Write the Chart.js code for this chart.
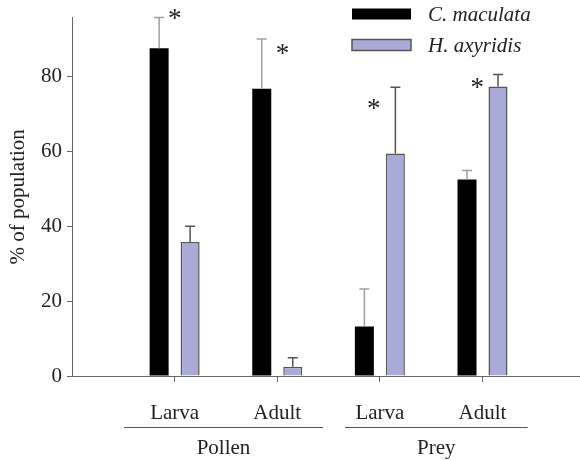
<!DOCTYPE html>
<html>
<head>
<meta charset="utf-8">
<title>Pollen vs prey</title>
<script src="https://cdn.jsdelivr.net/npm/chart.js@4.4.1/dist/chart.umd.min.js"></script>
<style>
  html, body { margin: 0; padding: 0; background: #fff; }
  #wrap { width: 580px; height: 460px; }
</style>
</head>
<body>
<div id="wrap"><canvas id="barChart" width="580" height="460"></canvas></div>
<script>
// categories along the x axis, and the food groups beneath them
const categories = ['Larva', 'Adult', 'Larva', 'Adult'];
const groups = ['Pollen', 'Prey'];
const seriesNames = ['C. maculata', 'H. axyridis'];

// mean % of population and error (SE)
const cMaculata = [87.5, 76.7, 13.2, 52.5];
const hAxyridis = [35.8, 2.5, 59.4, 77.3];
const errCm = [8.2, 13.3, 10.0, 2.4];
const errHa = [4.2, 2.4, 17.7, 3.2];

// significance stars: position along the category axis and height (in % units)
const starCats = [1.0, 2.05, 2.94, 3.95];
const starValues = [96.8, 87.7, 72.8, 78.5];

const yTicks = [0, 20, 40, 60, 80];

const serif = '"Liberation Serif", "DejaVu Serif", serif';

function toPoints(arr) {
    return arr.map((v, i) => ({ x: i + 1, y: v }));
}

// error bars, stars, legend and group brackets
const extras = {
    id: 'extras',
    afterDatasetsDraw(chart) {
        const ctx = chart.ctx;
        const y = chart.scales.y;
        const errs = [errCm, errHa];
        const vals = [cMaculata, hAxyridis];
        const colors = ['#a0a0a0', '#555'];
        ctx.save();
        for (let d = 0; d < 2; d++) {
            const meta = chart.getDatasetMeta(d);
            meta.data.forEach((bar, i) => {
                const top = y.getPixelForValue(vals[d][i] + errs[d][i]);
                ctx.strokeStyle = colors[d];
                ctx.lineWidth = 1.5;
                ctx.beginPath();
                ctx.moveTo(bar.x, bar.y);
                ctx.lineTo(bar.x, top);
                ctx.moveTo(bar.x - 5, top);
                ctx.lineTo(bar.x + 5, top);
                ctx.stroke();
            });
        }
        ctx.restore();
    },
    afterDraw(chart) {
        const ctx = chart.ctx;
        const x = chart.scales.x;
        const y = chart.scales.y;
        ctx.save();

        // stars
        ctx.fillStyle = '#222';
        ctx.font = '27px ' + serif;
        ctx.textAlign = 'center';
        ctx.textBaseline = 'alphabetic';
        starCats.forEach((c, i) => {
            const px = x.getPixelForValue(c);
            const py = y.getPixelForValue(starValues[i]);
            ctx.fillText('*', px, py + 14);
        });

        // legend
        const ds = chart.data.datasets;
        ctx.font = 'italic 21px ' + serif;
        ctx.textAlign = 'left';
        ctx.textBaseline = 'middle';
        ds.forEach((d, i) => {
            const cy = 14 + i * 31;
            ctx.fillStyle = d.backgroundColor;
            ctx.fillRect(352, cy - 5.5, 59, 11);
            if (d.borderWidth) {
                ctx.strokeStyle = d.borderColor;
                ctx.lineWidth = 1.5;
                ctx.strokeRect(352, cy - 5.5, 59, 11);
            }
            ctx.fillStyle = '#222';
            ctx.fillText(d.label, 428, cy + 1);
        });

        // group brackets under the tick labels
        const spans = [[0.507, 2.446], [2.66, 4.44]];
        ctx.strokeStyle = '#555';
        ctx.lineWidth = 1;
        ctx.font = '21px ' + serif;
        ctx.textAlign = 'center';
        ctx.fillStyle = '#222';
        groups.forEach((g, i) => {
            const x0 = x.getPixelForValue(spans[i][0]);
            const x1 = x.getPixelForValue(spans[i][1]);
            ctx.beginPath();
            ctx.moveTo(x0, 427.5);
            ctx.lineTo(x1, 427.5);
            ctx.stroke();
            ctx.fillText(g, (x0 + x1) / 2, 448);
        });
        ctx.restore();
    }
};

new Chart(document.getElementById('barChart'), {
    type: 'bar',
    data: {
        datasets: [{
            label: seriesNames[0],
            data: toPoints(cMaculata),
            backgroundColor: '#000',
            borderWidth: 0
        }, {
            label: seriesNames[1],
            data: toPoints(hAxyridis),
            backgroundColor: '#a9abd6',
            borderColor: '#555',
            borderWidth: 1.5
        }]
    },
    options: {
        responsive: false,
        animation: false,
        categoryPercentage: 0.604,
        barPercentage: 0.613,
        layout: { padding: { top: 17, right: 0, left: 0, bottom: 0 } },
        plugins: {
            legend: { display: false },
            tooltip: { enabled: false }
        },
        scales: {
            x: {
                type: 'linear',
                min: 0,
                max: 4.95,
                offset: false,
                afterBuildTicks: s => { s.ticks = categories.map((c, i) => ({ value: i + 1 })); },
                afterFit: s => { s.height = 84; },
                grid: { offset: false, drawOnChartArea: false, drawTicks: true, tickLength: 6, color: '#666' },
                border: { display: true, color: '#666', width: 1 },
                ticks: {
                    callback: v => categories[v - 1] || '',
                    font: { family: serif, size: 21 },
                    color: '#222',
                    padding: 19,
                    maxRotation: 0
                }
            },
            y: {
                min: 0,
                max: 95.7,
                afterBuildTicks: s => { s.ticks = yTicks.map(v => ({ value: v })); },
                afterFit: s => { s.width = 72; },
                grid: { drawOnChartArea: false, drawTicks: true, tickLength: 5, color: '#666' },
                border: { display: true, color: '#666', width: 1 },
                title: {
                    display: true,
                    text: '% of population',
                    font: { family: serif, size: 21 },
                    color: '#222',
                    padding: { top: 6, bottom: 0 }
                },
                ticks: {
                    font: { family: serif, size: 21 },
                    color: '#222',
                    padding: 5
                }
            }
        }
    },
    plugins: [extras]
});
</script>
</body>
</html>
